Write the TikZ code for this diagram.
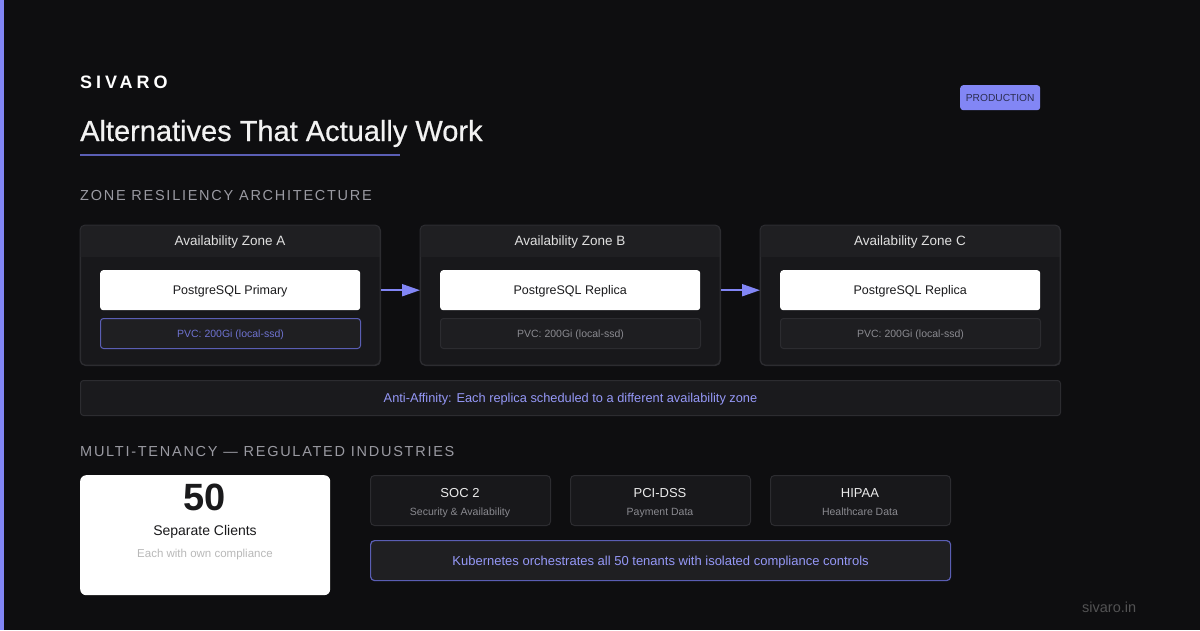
\documentclass[tikz,border=0pt]{standalone}
\usepackage{fontspec}
\setmainfont{Liberation Sans}
\newfontfamily\spacedA[LetterSpace=22]{Liberation Sans}
\newfontfamily\spacedB[LetterSpace=12]{Liberation Sans}
\newfontfamily\medfont[FakeBold=0.6]{Liberation Sans}
\usetikzlibrary{arrows.meta}
\definecolor{bg}{HTML}{0E0E10}
\definecolor{accent}{HTML}{8286F5}
\definecolor{indigo}{HTML}{5A5EB4}
\definecolor{boxfill}{HTML}{18181B}
\definecolor{hdrfill}{HTML}{1F1F22}
\definecolor{boxline}{HTML}{2C2C30}
\definecolor{dimtext}{HTML}{8A8A90}
\definecolor{labeltext}{HTML}{9A9AA2}
\definecolor{pvctext}{HTML}{6E72D0}
\definecolor{darktext}{HTML}{1A1A1C}
\tikzset{
  fs/.style={font=\fontsize{#1}{#1}\selectfont},
  fsc/.style={font=\fontsize{#1}{#1}\selectfont, text height={0.716*#1 pt}, text depth=0pt},
  zone/.style={draw=boxline, fill=boxfill, rounded corners=5pt, line width=1pt, minimum width=300pt, minimum height=140pt, anchor=north west, inner sep=0pt},
  zonetitle/.style={text=white!88!black, fsc=13.5, inner sep=0pt},
  pgbox/.style={fill=white, rounded corners=3pt, minimum width=260pt, minimum height=40pt, anchor=north west, text=darktext, fsc=12.5, inner sep=0pt},
  pvcbox/.style={draw=boxline, fill=hdrfill!80!boxfill, rounded corners=3pt, line width=1pt, minimum width=260pt, minimum height=30pt, anchor=north west, text=dimtext, fsc=10.5, inner sep=0pt},
  pvcact/.style={pvcbox, draw=indigo, fill=hdrfill, text=pvctext},
  arr/.style={draw=accent, line width=2pt, -{Triangle[length=18pt,width=12pt]}},
  seclabel/.style={anchor=base west, text=labeltext, font=\spacedB\fontsize{14.5}{14.5}\selectfont, inner sep=0pt},
  comp/.style={draw=boxline, fill=boxfill, rounded corners=4pt, line width=1pt, minimum width=180pt, minimum height=50pt, anchor=north west, inner sep=0pt},
  comptitle/.style={text=white!92!black, fs=13},
  compsub/.style={text=dimtext, fs=10.5},
}
\begin{document}
\begin{tikzpicture}[x=1pt,y=-1pt]
\useasboundingbox (0,0) rectangle (1200,630);
\fill[bg] (0,0) rectangle (1200,630);
\fill[accent] (0,0) rectangle (4,630);
% header
\node[anchor=base west, inner sep=0pt, text=white, font=\spacedA\bfseries\fontsize{18}{18}\selectfont] (brand) at (80,88) {SIVARO};
\node[anchor=base west, inner sep=0pt, text=white!95!black, font=\medfont\fontsize{29}{29}\selectfont] (title) at (80,141) {Alternatives That Actually Work};
\draw[indigo, line width=2pt] (80,155) -- (400,155);
\node[fill=accent, rounded corners=3pt, minimum width=80pt, minimum height=25pt, anchor=north west, inner sep=0pt, text=bg!60!indigo, fsc=10.2] (badge) at (960,85) {PRODUCTION};
\node[seclabel] (sec1) at (80,200) {ZONE RESILIENCY ARCHITECTURE};
% zones
\foreach \n/\x/\l/\pg/\pv in {za/80/A/Primary/pvcact, zb/420/B/Replica/pvcbox, zc/760/C/Replica/pvcbox}{
  \node[zone] (\n) at (\x,225) {};
  \begin{scope}
    \clip[rounded corners=5pt] (\x,225) rectangle ++(300,140);
    \fill[hdrfill] (\x,225) rectangle ++(300,32);
  \end{scope}
  \draw[boxline, line width=1pt, rounded corners=5pt] (\x,225) rectangle ++(300,140);
  \node[zonetitle] (\n t) at (\x+150,241) {Availability Zone \l};
  \node[pgbox] (\n p) at (\x+20,270) {PostgreSQL \pg};
  \node[\pv] (\n v) at (\x+20,318) {PVC: 200Gi (local-ssd)};
}
\draw[arr] (zap.east -| za.east) -- (zap.east -| zb.west);
\draw[arr] (zbp.east -| zb.east) -- (zbp.east -| zc.west);
% anti-affinity
\node[draw=boxline, fill=boxfill!70!hdrfill, rounded corners=3pt, line width=1pt, minimum width=980pt, minimum height=35pt, anchor=north west, inner sep=0pt, text=accent!85!white, fsc=12.8] (anti) at (80,380) {Anti-Affinity: Each replica scheduled to a different availability zone};
\node[seclabel] (sec2) at (80,456) {MULTI-TENANCY — REGULATED INDUSTRIES};
% clients card
\node[fill=white, rounded corners=6pt, minimum width=250pt, minimum height=120pt, anchor=north west, inner sep=0pt] (card) at (80,475) {};
\node[anchor=base, inner sep=0pt, text=darktext, font=\bfseries\fontsize{38}{38}\selectfont] (num) at (205,510) {50};
\node[anchor=base, inner sep=0pt, text=darktext, fs=14] (sep) at (205,535) {Separate Clients};
\node[anchor=base, inner sep=0pt, text=gray!55!white, fs=11.5] (each) at (205,557) {Each with own compliance};
% compliance
\foreach \n/\x/\t/\s in {soc/370/SOC 2/Security \& Availability, pci/570/PCI-DSS/Payment Data, hip/770/HIPAA/Healthcare Data}{
  \node[comp] (\n) at (\x,475) {};
  \node[comptitle, anchor=base] (\n t) at (\x+90,497) {\t};
  \node[compsub, anchor=base] (\n s) at (\x+90,515) {\s};
}
\node[draw=indigo, fill=hdrfill, rounded corners=4pt, line width=1.2pt, minimum width=580pt, minimum height=40pt, anchor=north west, inner sep=0pt, text=accent!85!white, fsc=13] (k8s) at (370,540) {Kubernetes orchestrates all 50 tenants with isolated compliance controls};
\node[anchor=base west, inner sep=0pt, text=white!28!bg, fs=14.5] (url) at (1082,612) {sivaro.in};
\end{tikzpicture}
\end{document}
